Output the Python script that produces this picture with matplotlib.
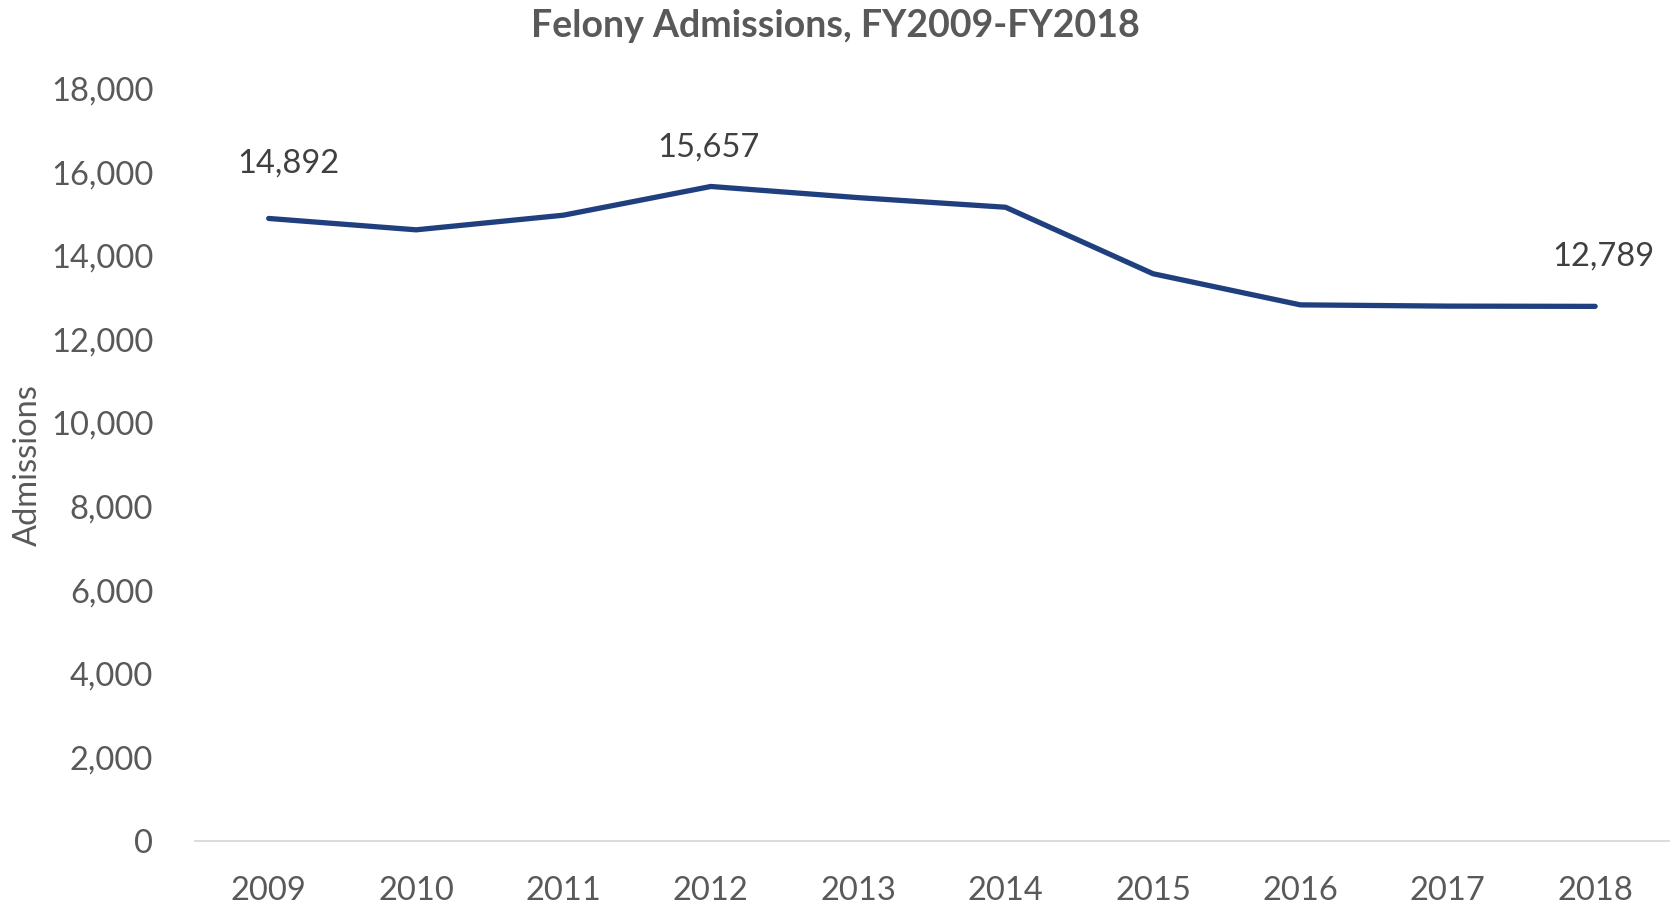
import matplotlib.pyplot as plt
from matplotlib.ticker import FuncFormatter

plt.rcParams['font.family'] = ['Lato', 'DejaVu Sans']

years = ['2009', '2010', '2011', '2012', '2013', '2014', '2015', '2016', '2017', '2018']
admissions = [14892, 14620, 14970, 15657, 15390, 15160, 13570, 12825, 12795, 12789]
# which points carry a label, and where the label sits (points offset)
labelled = {0: (14, 29), 3: (-2, 17), 9: (6, 25)}

fig = plt.figure(figsize=(16.71, 9.06), dpi=100)
ax = fig.add_axes([0.1167, 0.0717, 0.882, 0.8306])

x = list(range(len(years)))
ax.plot(x, admissions, color='#203F7E', lw=3.8, solid_capstyle='round', solid_joinstyle='round')

for i, (dx, dy) in labelled.items():
    ax.annotate(f'{admissions[i]:,}', (x[i], admissions[i]), xytext=(dx, dy),
                textcoords='offset points', ha='center', va='bottom',
                fontsize=23.5, color='#404040')

ax.set_xlim(-0.5, len(years) - 0.5)
ax.set_ylim(0, 18000)
ax.set_yticks(range(0, 18001, 2000))
ax.yaxis.set_major_formatter(FuncFormatter(lambda v, p: f'{int(v):,}'))
ax.set_xticks(x)
ax.set_xticklabels(years)

for s in ['top', 'right', 'left']:
    ax.spines[s].set_visible(False)
ax.spines['bottom'].set_color('#D9D9D9')
ax.spines['bottom'].set_linewidth(1.3)
ax.tick_params(axis='both', length=0, labelsize=23.5, colors='#595959')
ax.tick_params(axis='y', pad=30)
ax.tick_params(axis='x', pad=25)

ax.set_ylabel('Admissions', fontsize=23.5, color='#595959', labelpad=6)
fig.text(0.5, 0.971, 'Felony Admissions, FY2009-FY2018', ha='center', va='center',
         fontsize=27, fontweight='bold', color='#595959')

fig.savefig('out.png', dpi=100)
